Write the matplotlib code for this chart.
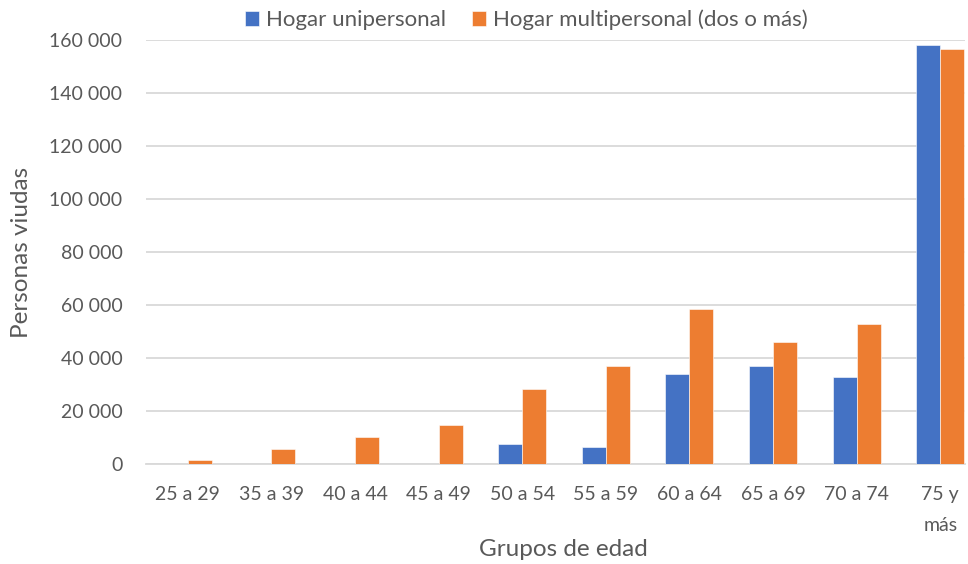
import matplotlib
matplotlib.use("Agg")
import matplotlib.pyplot as plt
import numpy as np
from matplotlib.ticker import FuncFormatter

categories = ["25 a 29", "35 a 39", "40 a 44", "45 a 49", "50 a 54", "55 a 59",
              "60 a 64", "65 a 69", "70 a 74", "75 y\nmás"]
unipersonal = [0, 0, 0, 0, 7400, 6500, 33800, 37100, 32900, 158200]
multipersonal = [1500, 5800, 10200, 14700, 28200, 37100, 58600, 45900, 52900, 156500]
series_names = ["Hogar unipersonal", "Hogar multipersonal (dos o más)"]
yticks = [0, 20000, 40000, 60000, 80000, 100000, 120000, 140000, 160000]

plt.rcParams['font.family'] = ['Lato', 'DejaVu Sans']
W, H = 968, 564
fig = plt.figure(figsize=(W/100, H/100), dpi=100)
left, right, top, bottom = 146, 965, 40, 464
ax = fig.add_axes([left/W, 1-bottom/H, (right-left)/W, (bottom-top)/H])

x = np.arange(len(categories))
bw = 24/83.6
c1, c2 = "#4472C4", "#ED7D31"
ax.bar(x - bw/2, unipersonal, bw, color=c1, label=series_names[0], zorder=3,
       edgecolor="white", linewidth=0.4)
ax.bar(x + bw/2, multipersonal, bw, color=c2, label=series_names[1], zorder=3,
       edgecolor="white", linewidth=0.4)

ax.set_xlim(-0.5, -0.5 + (right-left)/83.6)
ax.set_ylim(0, 160000)
ax.set_yticks(yticks)
ax.yaxis.set_major_formatter(FuncFormatter(lambda v, p: f"{int(v):,}".replace(",", " ")))
ax.set_xticks(x)
ax.set_xticklabels(categories, va="top", linespacing=2.0)
ax.grid(axis="y", color="#D9D9D9", linewidth=1.3, zorder=0)
for s in ["top", "right", "left"]:
    ax.spines[s].set_visible(False)
ax.spines["bottom"].set_color("#D9D9D9")
ax.spines["bottom"].set_linewidth(1.3)
ax.tick_params(axis="both", length=0, labelsize=14, colors="#595959")
ax.tick_params(axis="y", pad=17)
ax.tick_params(axis="x", pad=15.5)

fig.text(563/W, 1-550/H, "Grupos de edad", fontsize=17.5, color="#595959",
         ha="center", va="center")
fig.text(22/W, 1-252/H, "Personas viudas", fontsize=17.5, color="#595959",
         ha="center", va="center", rotation=90)

leg = fig.legend(loc="center", bbox_to_anchor=(526.5/W, 1-20/H), ncol=2, frameon=False,
                 fontsize=16, handlelength=0.63, handleheight=0.63, columnspacing=1.2,
                 handletextpad=0.3, borderpad=0, borderaxespad=0)
for t in leg.get_texts():
    t.set_color("#595959")

fig.savefig("out.png", dpi=100)
